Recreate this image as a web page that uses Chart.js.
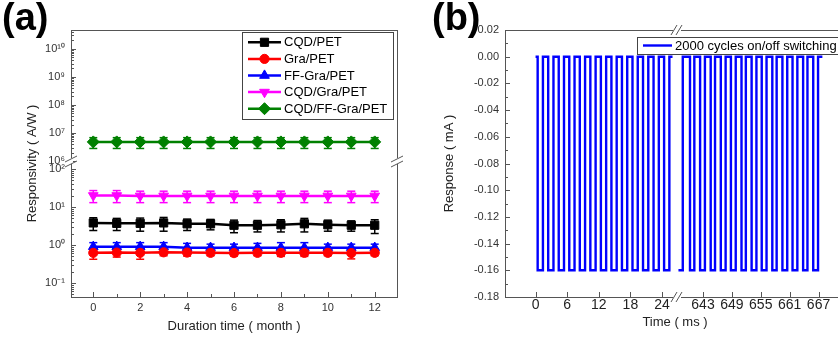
<!DOCTYPE html>
<html>
<head>
<meta charset="utf-8">
<script src="https://cdn.jsdelivr.net/npm/chart.js@4.4.1/dist/chart.umd.min.js"></script>
<style>
  html, body { margin: 0; padding: 0; background: #fff; overflow: hidden; }
  body { width: 838px; height: 338px; position: relative; font-family: "Liberation Sans", Arial, sans-serif; }
  .panel { position: absolute; top: 0; height: 338px; }
  #wrapA { left: 0; width: 420px; }
  #wrapB { left: 420px; width: 445px; }
  .tag { position: absolute; top: -2px; font-weight: bold; font-size: 38px; line-height: 38px; color: #000; }
</style>
</head>
<body>
<div id="wrapA" class="panel"><canvas id="chartA" width="420" height="338"></canvas></div>
<div id="wrapB" class="panel"><canvas id="chartB" width="445" height="338"></canvas></div>
<div class="tag" style="left:2px">(a)</div>
<div class="tag" style="left:432px">(b)</div>

<script>
// ---- (a) responsivity vs. storage time ----
const months = [0, 1, 2, 3, 4, 5, 6, 7, 8, 9, 10, 11, 12];
const cqdPet       = [3.8, 3.7, 3.7, 3.8, 3.6, 3.6, 3.3, 3.3, 3.4, 3.6, 3.4, 3.3, 3.3];
const cqdPetErr    = [1.4, 1.3, 1.4, 1.5, 1.2, 1.1, 1.2, 1.1, 1.2, 1.4, 1.1, 1.0, 1.3];
const graPet       = [0.62, 0.63, 0.62, 0.64, 0.63, 0.62, 0.61, 0.62, 0.62, 0.62, 0.62, 0.61, 0.62];
const graPetErr    = [0.2, 0.15, 0.2, 0.12, 0.12, 0.1, 0.1, 0.1, 0.12, 0.12, 0.1, 0.18, 0.1];
const ffGraPet     = [0.9, 0.9, 0.9, 0.9, 0.85, 0.85, 0.85, 0.85, 0.85, 0.85, 0.85, 0.85, 0.85];
const ffGraPetErr  = [0.25, 0.25, 0.25, 0.25, 0.25, 0.2, 0.2, 0.25, 0.3, 0.3, 0.2, 0.2, 0.2];
const cqdGraPet    = [20, 20, 19.5, 19.5, 19.5, 19.5, 19.5, 19.5, 19.5, 19.5, 19.5, 19.5, 19.5];
const cqdGraPetErr = [7, 7, 6.5, 6.5, 6.5, 6.5, 6.5, 6.5, 6.5, 6.5, 6.5, 6.5, 6.5];
const cqdFfGraPet    = [4.8e6, 4.8e6, 4.8e6, 4.8e6, 4.8e6, 4.8e6, 4.8e6, 4.8e6, 4.8e6, 4.8e6, 4.8e6, 4.8e6, 4.8e6];
const cqdFfGraPetErr = [2e6, 2e6, 2e6, 2e6, 2e6, 2e6, 2e6, 2e6, 2e6, 2e6, 2e6, 2e6, 2e6];
const monthTicks = [0, 2, 4, 6, 8, 10, 12];
const monthMinor = [1, 3, 5, 7, 9, 11];
const lowDecades = [0.1, 1, 10, 100];
const highDecades = [1e6, 1e7, 1e8, 1e9, 1e10];

// ---- (b) on/off switching ----
const tLeft = [0, 0.4, 1.4, 2.4, 3.4, 4.4, 5.4, 6.4, 7.4, 8.4, 9.4, 10.4, 11.4, 12.4, 13.4,
               14.4, 15.4, 16.4, 17.4, 18.4, 19.4, 20.4, 21.4, 22.4, 23.4, 24.4, 25.4, 26];
const iLeft = [0, -0.16, 0, -0.16, 0, -0.16, 0, -0.16, 0, -0.16, 0, -0.16, 0, -0.16, 0,
               -0.16, 0, -0.16, 0, -0.16, 0, -0.16, 0, -0.16, 0, -0.16, 0, 0];
const tRight = [637.9, 638.8, 640.3, 641.2, 642.4, 643.4, 644.6, 645.5, 646.7, 647.7, 648.8, 649.8,
                651.0, 651.9, 653.1, 654.1, 655.2, 656.2, 657.4, 658.3, 659.5, 660.5, 661.6, 662.6,
                663.8, 664.7, 665.9, 666.9, 667.8];
const iRight = [-0.16, 0, -0.16, 0, -0.16, 0, -0.16, 0, -0.16, 0, -0.16, 0,
                -0.16, 0, -0.16, 0, -0.16, 0, -0.16, 0, -0.16, 0, -0.16, 0,
                -0.16, 0, -0.16, 0, 0];
const timeTicksLeft = [0, 6, 12, 18, 24];
const timeTicksRight = [643, 649, 655, 661, 667];
const responseTicks = [0.02, 0.00, -0.02, -0.04, -0.06, -0.08, -0.10, -0.12, -0.14, -0.16, -0.18];
const responseMinor = [0.01, -0.01, -0.03, -0.05, -0.07, -0.09, -0.11, -0.13, -0.15, -0.17];

const FONT = '"Liberation Sans", Arial, sans-serif';
Chart.defaults.font.family = FONT;
Chart.defaults.color = '#333';
const AXIS = '#555';

const sup = { '-': '\u207B', '0': '\u2070', '1': '\u00B9', '2': '\u00B2', '3': '\u00B3', '4': '\u2074',
              '5': '\u2075', '6': '\u2076', '7': '\u2077', '8': '\u2078', '9': '\u2079' };
function powLabel(v) {
    return '10' + String(Math.round(Math.log10(v))).split('').map(c => sup[c]).join('');
}
function pairs(xs, ys) {
    return xs.map((x, i) => ({ x: x, y: ys[i] }));
}
function setTicks(values) {
    return scale => { scale.ticks = values.map(v => ({ value: v })); };
}
function line(ctx, x1, y1, x2, y2) {
    ctx.beginPath(); ctx.moveTo(x1, y1); ctx.lineTo(x2, y2); ctx.stroke();
}
function marker(ctx, style, x, y) {
    if (Chart.helpers && Chart.helpers.drawPoint) {
        Chart.helpers.drawPoint(ctx, style, x, y);
    } else {
        ctx.beginPath(); ctx.arc(x, y, style.radius, 0, Math.PI * 2); ctx.fill();
    }
}

// inward tick marks (Origin style), frame and axis breaks
function decorations(cfg) {
    return {
        id: 'decorations',
        afterDraw(chart) {
            const ctx = chart.ctx, a = chart.chartArea;
            ctx.save();
            ctx.strokeStyle = AXIS;
            ctx.lineWidth = 1;
            // frame: top and right edges
            line(ctx, a.left, Math.round(a.top) + 0.5, a.right, Math.round(a.top) + 0.5);
            line(ctx, Math.round(a.right) + 0.5, a.top, Math.round(a.right) + 0.5, a.bottom);
            // ticks
            cfg.ticks.forEach(t => {
                const s = chart.scales[t.id];
                const mark = (v, len) => {
                    if (v < Math.min(s.min, s.max) || v > Math.max(s.min, s.max)) return;
                    const p = Math.round(s.getPixelForValue(v)) + 0.5;
                    if (s.isHorizontal()) line(ctx, p, s.top, p, s.top - len);
                    else line(ctx, s.right, p, s.right + len, p);
                };
                s.ticks.forEach(tk => mark(tk.value, 5));
                let minor = t.minor || [];
                if (t.log) {
                    minor = [];
                    for (let e = -3; e <= 11; e++) for (let k = 2; k <= 9; k++) minor.push(k * Math.pow(10, e));
                }
                minor.forEach(v => mark(v, 3));
            });
            // breaks
            cfg.breaks(chart).forEach(b => {
                ctx.fillStyle = '#fff';
                if (b.vertical) {
                    ctx.fillRect(b.x - 2, b.y - 3, 4, 6);
                    line(ctx, b.x - 6, b.y + 1, b.x + 6, b.y - 5);
                    line(ctx, b.x - 6, b.y + 6, b.x + 6, b.y);
                } else {
                    ctx.fillRect(b.x - 4, b.y - 2, 8, 4);
                    line(ctx, b.x - 6, b.y + 5, b.x, b.y - 5);
                    line(ctx, b.x - 1, b.y + 5, b.x + 5, b.y - 5);
                }
            });
            // titles that span stacked axes
            ctx.fillStyle = '#222';
            ctx.font = '13px ' + FONT;
            ctx.textAlign = 'center';
            ctx.textBaseline = 'middle';
            cfg.titles(chart).forEach(t => {
                ctx.save();
                ctx.translate(t.x, t.y);
                ctx.rotate(t.rot || 0);
                ctx.fillText(t.text, 0, 0);
                ctx.restore();
            });
            ctx.restore();
        }
    };
}

function errorBars(errs) {
    return {
        id: 'errorBars',
        beforeDatasetsDraw(chart) {
            const ctx = chart.ctx;
            ctx.save();
            ctx.lineWidth = 1.5;
            chart.data.datasets.forEach((ds, i) => {
                const err = errs[i];
                const xs = chart.scales.x, ys = chart.scales[ds.yAxisID];
                ctx.strokeStyle = ds.borderColor;
                ds.data.forEach((p, j) => {
                    const x = xs.getPixelForValue(p.x);
                    const y1 = ys.getPixelForValue(p.y + err[j]);
                    const y2 = ys.getPixelForValue(Math.max(p.y - err[j], ys.min));
                    line(ctx, x, y1, x, y2);
                    line(ctx, x - 4, y1, x + 4, y1);
                    line(ctx, x - 4, y2, x + 4, y2);
                });
            });
            ctx.restore();
        }
    };
}

function boxLegend(cfg) {
    return {
        id: 'boxLegend',
        afterDraw(chart) {
            const ctx = chart.ctx, a = chart.chartArea;
            const seen = {};
            const items = chart.data.datasets.filter(ds => !seen[ds.label] && (seen[ds.label] = true));
            const left = a.right - cfg.fromRight, top = a.top + cfg.top;
            const right = a.right - cfg.rightGap;
            const height = cfg.pad * 2 + cfg.row * items.length;
            ctx.save();
            ctx.fillStyle = '#fff';
            ctx.fillRect(left, top, right - left, height);
            ctx.strokeStyle = '#444';
            ctx.lineWidth = 1;
            ctx.strokeRect(Math.round(left) + 0.5, Math.round(top) + 0.5, Math.round(right - left), Math.round(height));
            ctx.font = cfg.font + 'px ' + FONT;
            ctx.textBaseline = 'middle';
            items.forEach((ds, i) => {
                const y = top + cfg.pad + cfg.row * (i + 0.5);
                ctx.strokeStyle = ds.borderColor;
                ctx.fillStyle = ds.borderColor;
                ctx.lineWidth = ds.borderWidth;
                line(ctx, left + 6, y, left + 6 + cfg.lineLen, y);
                if (ds.pointRadius > 0) {
                    ctx.lineWidth = 1;
                    marker(ctx, { pointStyle: ds.pointStyle, rotation: ds.rotation || 0, radius: ds.pointRadius, borderWidth: 1 },
                           left + 6 + cfg.lineLen / 2, y);
                }
                ctx.fillStyle = '#000';
                ctx.fillText(ds.label, left + 9 + cfg.lineLen, y + 0.5);
            });
            ctx.restore();
        }
    };
}

function series(label, color, values, style, radius, rotation) {
    return {
        label: label, data: pairs(months, values), yAxisID: values === cqdFfGraPet ? 'yHigh' : 'yLow',
        borderColor: color, backgroundColor: color, borderWidth: 2.5,
        pointStyle: style, pointRadius: radius, pointHoverRadius: radius, rotation: rotation || 0,
        pointBorderWidth: 1, tension: 0
    };
}

const noGrid = { display: false, drawTicks: false };

new Chart(document.getElementById('chartA'), {
    type: 'line',
    data: {
        datasets: [
            series('CQD/PET', '#000000', cqdPet, 'rect', 5.8),
            series('Gra/PET', '#ff0000', graPet, 'circle', 4.6),
            series('FF-Gra/PET', '#0000ff', ffGraPet, 'triangle', 5.6),
            series('CQD/Gra/PET', '#ff00ff', cqdGraPet, 'triangle', 5.6, 180),
            series('CQD/FF-Gra/PET', '#008000', cqdFfGraPet, 'rectRot', 6)
        ]
    },
    options: {
        responsive: false,
        animation: false,
        layout: { padding: { top: 30, right: 23, left: 0, bottom: 0 } },
        plugins: { legend: { display: false }, tooltip: { enabled: false } },
        scales: {
            x: {
                type: 'linear', position: 'bottom', min: -0.95, max: 12.95,
                afterBuildTicks: setTicks(monthTicks),
                afterFit: s => { s.height = 41; },
                grid: noGrid,
                border: { color: AXIS },
                ticks: { padding: 4, font: { size: 11 }, maxRotation: 0, autoSkip: false, callback: v => String(v) },
                title: { display: true, text: 'Duration time ( month )', color: '#222',
                         font: { size: 13 }, padding: { top: 0, bottom: 4 } }
            },
            yLow: {
                type: 'logarithmic', position: 'left', stack: 'resp', stackWeight: 136,
                min: 0.0427, max: 162,
                afterBuildTicks: setTicks(lowDecades),
                afterFit: s => { s.width = 71; },
                grid: noGrid,
                border: { color: AXIS },
                ticks: { padding: 6, font: { size: 11 }, autoSkip: false, callback: v => powLabel(v) }
            },
            yHigh: {
                type: 'logarithmic', position: 'left', stack: 'resp', stackWeight: 131,
                min: 1e6, max: 4.7e10,
                afterBuildTicks: setTicks(highDecades),
                afterFit: s => { s.width = 71; },
                grid: noGrid,
                border: { color: AXIS },
                ticks: { padding: 6, font: { size: 11 }, autoSkip: false, callback: v => powLabel(v) }
            }
        }
    },
    plugins: [
        errorBars([cqdPetErr, graPetErr, ffGraPetErr, cqdGraPetErr, cqdFfGraPetErr]),
        decorations({
            ticks: [{ id: 'x', minor: monthMinor }, { id: 'yLow', log: true }, { id: 'yHigh', log: true }],
            breaks: c => {
                const y = c.scales.yHigh.bottom;
                return [{ x: c.chartArea.left, y: y, vertical: true }, { x: c.chartArea.right, y: y, vertical: true }];
            },
            titles: c => [{ text: 'Responsivity ( A/W )', x: 32, y: (c.chartArea.top + c.chartArea.bottom) / 2, rot: -Math.PI / 2 }]
        }),
        boxLegend({ fromRight: 155, rightGap: 4, top: 2, pad: 2, row: 16.6, font: 13, lineLen: 33 })
    ]
});

new Chart(document.getElementById('chartB'), {
    type: 'line',
    data: {
        datasets: [
            { label: '2000 cycles on/off switching', data: pairs(tLeft, iLeft), xAxisID: 'xL', yAxisID: 'y',
              borderColor: '#0000ff', borderWidth: 2.4, pointRadius: 0, stepped: true },
            { label: '2000 cycles on/off switching', data: pairs(tRight, iRight), xAxisID: 'xR', yAxisID: 'y',
              borderColor: '#0000ff', borderWidth: 2.4, pointRadius: 0, stepped: true }
        ]
    },
    options: {
        responsive: false,
        animation: false,
        layout: { padding: { top: 30, right: 20, left: 0, bottom: 0 } },
        plugins: { legend: { display: false }, tooltip: { enabled: false } },
        scales: {
            xL: {
                type: 'linear', position: 'bottom', stack: 'time', stackWeight: 172,
                min: -5.8, max: 26.85,
                afterBuildTicks: setTicks(timeTicksLeft),
                afterFit: s => { s.height = 41; },
                grid: noGrid,
                border: { color: AXIS },
                ticks: { padding: 0, font: { size: 14 }, color: '#222', maxRotation: 0, minRotation: 0,
                         autoSkip: false, callback: v => String(v) }
            },
            xR: {
                type: 'linear', position: 'bottom', stack: 'time', stackWeight: 168,
                min: 637.6, max: 672.5,
                afterBuildTicks: setTicks(timeTicksRight),
                afterFit: s => { s.height = 41; },
                grid: noGrid,
                border: { color: AXIS },
                ticks: { padding: 0, font: { size: 14 }, color: '#222', maxRotation: 0, minRotation: 0,
                         autoSkip: false, callback: v => String(v) }
            },
            y: {
                type: 'linear', position: 'left', min: -0.18, max: 0.02,
                afterBuildTicks: setTicks(responseTicks),
                afterFit: s => { s.width = 85; },
                grid: noGrid,
                border: { color: AXIS },
                ticks: { padding: 6, font: { size: 11 }, autoSkip: false, callback: v => v.toFixed(2) },
                title: { display: true, text: 'Response ( mA )', color: '#222', font: { size: 13 },
                         padding: { top: 22, bottom: 0 } }
            }
        }
    },
    plugins: [
        decorations({
            ticks: [{ id: 'xL' }, { id: 'xR' }, { id: 'y', minor: responseMinor }],
            breaks: c => {
                const x = c.scales.xL.right;
                return [{ x: x, y: c.chartArea.bottom, vertical: false }, { x: x, y: c.chartArea.top, vertical: false }];
            },
            titles: c => [{ text: 'Time ( ms )', x: (c.chartArea.left + c.chartArea.right) / 2, y: 322.7 }]
        }),
        boxLegend({ fromRight: 208, rightGap: -10, top: 7, pad: 1, row: 15, font: 13, lineLen: 29 })
    ]
});
</script>
</body>
</html>
